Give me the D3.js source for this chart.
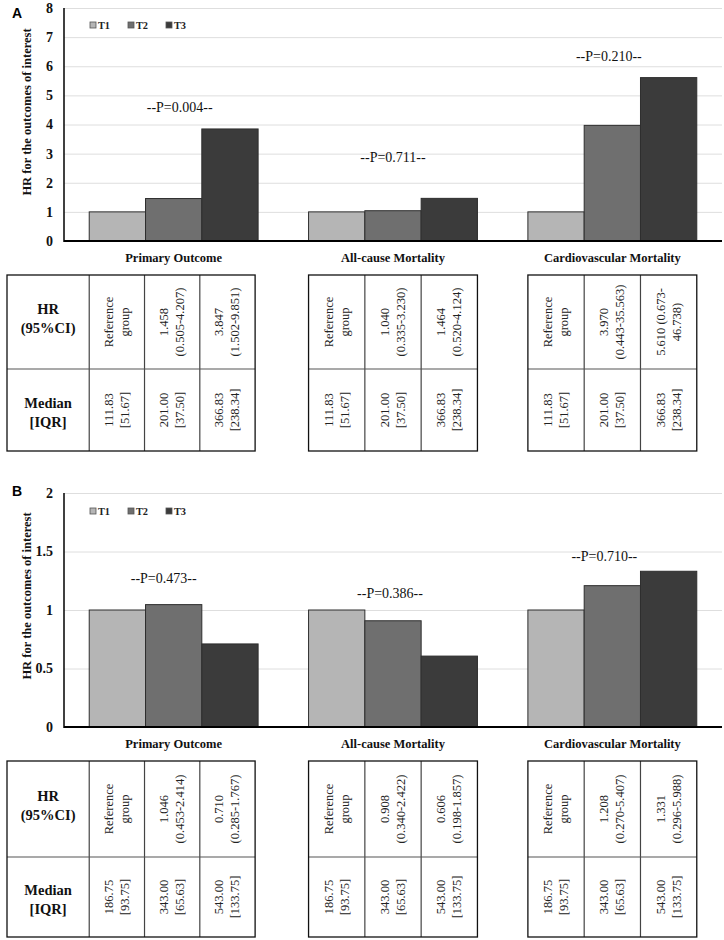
<!DOCTYPE html>
<html>
<head>
<meta charset="utf-8">
<script src="https://cdn.jsdelivr.net/npm/d3@7"></script>
<style>
  html, body { margin: 0; padding: 0; background: #fff; }
  svg { display: block; }
</style>
</head>
<body>
<div id="chart"></div>
<script>
// ---------------- DATA ----------------
const categories = ["Primary Outcome", "All-cause Mortality", "Cardiovascular Mortality"];
const seriesNames = ["T1", "T2", "T3"];

// Panel A
const panelA_T1 = [1.000, 1.000, 1.000];
const panelA_T2 = [1.458, 1.040, 3.970];
const panelA_T3 = [3.847, 1.464, 5.610];
const panelA_yTicks = [0, 1, 2, 3, 4, 5, 6, 7, 8];
const panelA_pLabels = ["--P=0.004--", "--P=0.711--", "--P=0.210--"];
const panelA_hrCells = [
  ["Reference|group", "1.458|(0.505-4.207)", "3.847|(1.502-9.851)"],
  ["Reference|group", "1.040|(0.335-3.230)", "1.464|(0.520-4.124)"],
  ["Reference|group", "3.970|(0.443-35.563)", "5.610 (0.673-|46.738)"]
];
const panelA_medianCells = [
  ["111.83|[51.67]", "201.00|[37.50]", "366.83|[238.34]"],
  ["111.83|[51.67]", "201.00|[37.50]", "366.83|[238.34]"],
  ["111.83|[51.67]", "201.00|[37.50]", "366.83|[238.34]"]
];

// Panel B
const panelB_T1 = [1.000, 1.000, 1.000];
const panelB_T2 = [1.046, 0.908, 1.208];
const panelB_T3 = [0.710, 0.606, 1.331];
const panelB_yTicks = [0, 0.5, 1, 1.5, 2];
const panelB_pLabels = ["--P=0.473--", "--P=0.386--", "--P=0.710--"];
const panelB_hrCells = [
  ["Reference|group", "1.046|(0.453-2.414)", "0.710|(0.285-1.767)"],
  ["Reference|group", "0.908|(0.340-2.422)", "0.606|(0.198-1.857)"],
  ["Reference|group", "1.208|(0.270-5.407)", "1.331|(0.296-5.988)"]
];
const panelB_medianCells = [
  ["186.75|[93.75]", "343.00|[65.63]", "543.00|[133.75]"],
  ["186.75|[93.75]", "343.00|[65.63]", "543.00|[133.75]"],
  ["186.75|[93.75]", "343.00|[65.63]", "543.00|[133.75]"]
];

const rowHeaders = ["HR|(95%CI)", "Median|[IQR]"];

// ---------------- STYLE / LAYOUT ----------------
const SERIF = "'Liberation Serif','Times New Roman',Times,serif";
const SANS = "'Liberation Sans',Arial,Helvetica,sans-serif";
const barColors = ["#b5b5b5", "#6f6f6f", "#3b3b3b"];

const W = 724, H = 940;
const svg = d3.select("#chart").append("svg").attr("width", W).attr("height", H)
  .attr("viewBox", `0 0 ${W} ${H}`);

function multiLine(sel, str, spacing) {
  const parts = str.split("|");
  const n = parts.length;
  parts.forEach((p, i) => {
    sel.append("tspan").attr("x", 0).attr("y", (i - (n - 1) / 2) * spacing).text(p);
  });
}

function drawPanel(cfg) {
  const g = svg.append("g");
  const x = d3.scaleBand().domain(categories).range([cfg.left, cfg.right])
    .paddingInner(0.23).paddingOuter(0.115);
  const xs = d3.scaleBand().domain(seriesNames).range([0, x.bandwidth()]);
  const y = d3.scaleLinear().domain([0, d3.max(cfg.ticks)]).range([cfg.bottom, cfg.top]);

  // gridlines
  g.append("g").attr("transform", `translate(${cfg.left},0)`)
    .call(d3.axisLeft(y).tickValues(cfg.ticks.filter(d => d > 0)).tickSize(-(cfg.right - cfg.left)).tickFormat(""))
    .call(s => s.select(".domain").remove())
    .call(s => s.selectAll("line").attr("stroke", "#dedede").attr("stroke-width", 1));

  // bars
  const groups = g.selectAll("g.grp").data(categories).join("g").attr("class", "grp")
    .attr("transform", d => `translate(${x(d)},0)`);
  groups.selectAll("rect").data((d, i) => cfg.series.map((s, k) => ({ key: seriesNames[k], v: s[i], k })))
    .join("rect")
    .attr("x", d => xs(d.key))
    .attr("y", d => y(d.v))
    .attr("width", xs.bandwidth())
    .attr("height", d => y(0) - y(d.v))
    .attr("fill", d => barColors[d.k])
    .attr("stroke", "#2e2e2e")
    .attr("stroke-width", 1);

  // tick labels
  g.append("g").attr("transform", `translate(${cfg.left},0)`)
    .call(d3.axisLeft(y).tickValues(cfg.ticks).tickSize(0).tickPadding(11).tickFormat(d3.format("~g")))
    .call(s => s.select(".domain").remove())
    .call(s => s.selectAll("text").attr("font-family", SERIF).attr("font-weight", "bold")
      .attr("font-size", 14).attr("fill", "#111"));

  // axis lines
  g.append("line").attr("x1", cfg.left).attr("x2", cfg.left).attr("y1", cfg.top).attr("y2", cfg.bottom + 1)
    .attr("stroke", "#000").attr("stroke-width", 1.5);
  g.append("line").attr("x1", cfg.left).attr("x2", cfg.right).attr("y1", cfg.bottom).attr("y2", cfg.bottom)
    .attr("stroke", "#000").attr("stroke-width", 2);

  // y-axis title
  g.append("text")
    .attr("transform", `translate(27,${cfg.ytitleY}) rotate(-90)`)
    .attr("text-anchor", "middle").attr("dominant-baseline", "central")
    .attr("font-family", SERIF).attr("font-weight", "bold").attr("font-size", 12.5).attr("fill", "#111")
    .text("HR for the outcomes of interest");

  // panel letter
  g.append("text").attr("x", 12).attr("y", cfg.letterY)
    .attr("font-family", SANS).attr("font-weight", "bold").attr("font-size", 14).attr("fill", "#000")
    .text(cfg.letter);

  // legend
  const lg = g.append("g").attr("transform", `translate(0,${cfg.legendY})`);
  seriesNames.forEach((s, k) => {
    const lx = cfg.legendX[k];
    lg.append("rect").attr("x", lx).attr("y", -3).attr("width", 6).attr("height", 6)
      .attr("fill", barColors[k]).attr("stroke", "#555").attr("stroke-width", 0.8);
    lg.append("text").attr("x", lx + 8).attr("y", 0).attr("dominant-baseline", "central")
      .attr("font-family", SERIF).attr("font-weight", "bold").attr("font-size", 10.3).attr("fill", "#222")
      .text(s);
  });

  // P labels
  categories.forEach((c, i) => {
    g.append("text")
      .attr("x", x(c) + x.bandwidth() / 2 + cfg.pDx[i])
      .attr("y", y(cfg.pAt[i]))
      .attr("text-anchor", "middle").attr("dominant-baseline", "central")
      .attr("font-family", SERIF).attr("font-size", 14).attr("fill", "#111")
      .text(cfg.pLabels[i]);
  });

  // category labels
  categories.forEach(c => {
    g.append("text")
      .attr("x", x(c) + x.bandwidth() / 2).attr("y", cfg.bottom + 17)
      .attr("text-anchor", "middle").attr("dominant-baseline", "central")
      .attr("font-family", SERIF).attr("font-weight", "bold").attr("font-size", 12.5).attr("fill", "#111")
      .text(c);
  });

  // tables
  const t0 = cfg.tableTop, t1 = cfg.tableMid, t2 = cfg.tableBottom;
  const tg = g.append("g");
  categories.forEach((c, i) => {
    const x0 = x(c), bw = x.bandwidth(), cw = bw / 3;
    const left = i === 0 ? 7 : x0;
    const right = x0 + bw - (i === 0 ? 3 : 0);
    const colW = (right - x0) / 3;
    // inner lines
    const innerX = [];
    if (i === 0) innerX.push(x0);
    innerX.push(x0 + colW, x0 + 2 * colW);
    innerX.forEach(ix => tg.append("line").attr("x1", ix).attr("x2", ix).attr("y1", t0).attr("y2", t2)
      .attr("stroke", "#444").attr("stroke-width", 1.2));
    tg.append("line").attr("x1", left).attr("x2", right).attr("y1", t1).attr("y2", t1)
      .attr("stroke", "#555").attr("stroke-width", 1.2);
    tg.append("rect").attr("x", left).attr("y", t0).attr("width", right - left).attr("height", t2 - t0)
      .attr("fill", "none").attr("stroke", "#111").attr("stroke-width", 1.3);

    // headers
    if (i === 0) {
      rowHeaders.forEach((h, r) => {
        const cy = r === 0 ? (t0 + t1) / 2 - 4 : (t1 + t2) / 2 + 2;
        const t = tg.append("text").attr("transform", `translate(${(left + x0) / 2},${cy})`)
          .attr("text-anchor", "middle").attr("dominant-baseline", "central")
          .attr("font-family", SERIF).attr("font-weight", "bold").attr("font-size", 14.5).attr("fill", "#111");
        multiLine(t, h, 19);
      });
    }
    // values
    [cfg.hrCells[i], cfg.medianCells[i]].forEach((row, r) => {
      const cy = r === 0 ? (t0 + t1) / 2 : (t1 + t2) / 2;
      row.forEach((cell, k) => {
        const cx = x0 + colW * k + colW / 2;
        const t = tg.append("text").attr("transform", `translate(${cx},${cy}) rotate(-90)`)
          .attr("text-anchor", "middle").attr("dominant-baseline", "central")
          .attr("font-family", SERIF).attr("font-size", 12.5).attr("fill", "#222");
        multiLine(t, cell, 16);
      });
    });
  });
}

drawPanel({
  letter: "A", letterY: 18,
  left: 64, right: 722, top: 8, bottom: 241,
  ticks: panelA_yTicks,
  series: [panelA_T1, panelA_T2, panelA_T3],
  pLabels: panelA_pLabels,
  pAt: [4.57, 2.85, 6.32], pDx: [6, 0, -3.5],
  legendY: 25, legendX: [90, 128, 166],
  ytitleY: 112,
  tableTop: 275, tableMid: 369, tableBottom: 451,
  hrCells: panelA_hrCells, medianCells: panelA_medianCells
});

drawPanel({
  letter: "B", letterY: 496,
  left: 64, right: 722, top: 493, bottom: 727,
  ticks: panelB_yTicks,
  series: [panelB_T1, panelB_T2, panelB_T3],
  pLabels: panelB_pLabels,
  pAt: [1.27, 1.137, 1.453], pDx: [-10, -3, -8],
  legendY: 511, legendX: [90, 128, 166],
  ytitleY: 596,
  tableTop: 761, tableMid: 857, tableBottom: 937,
  hrCells: panelB_hrCells, medianCells: panelB_medianCells
});
</script>
</body>
</html>
